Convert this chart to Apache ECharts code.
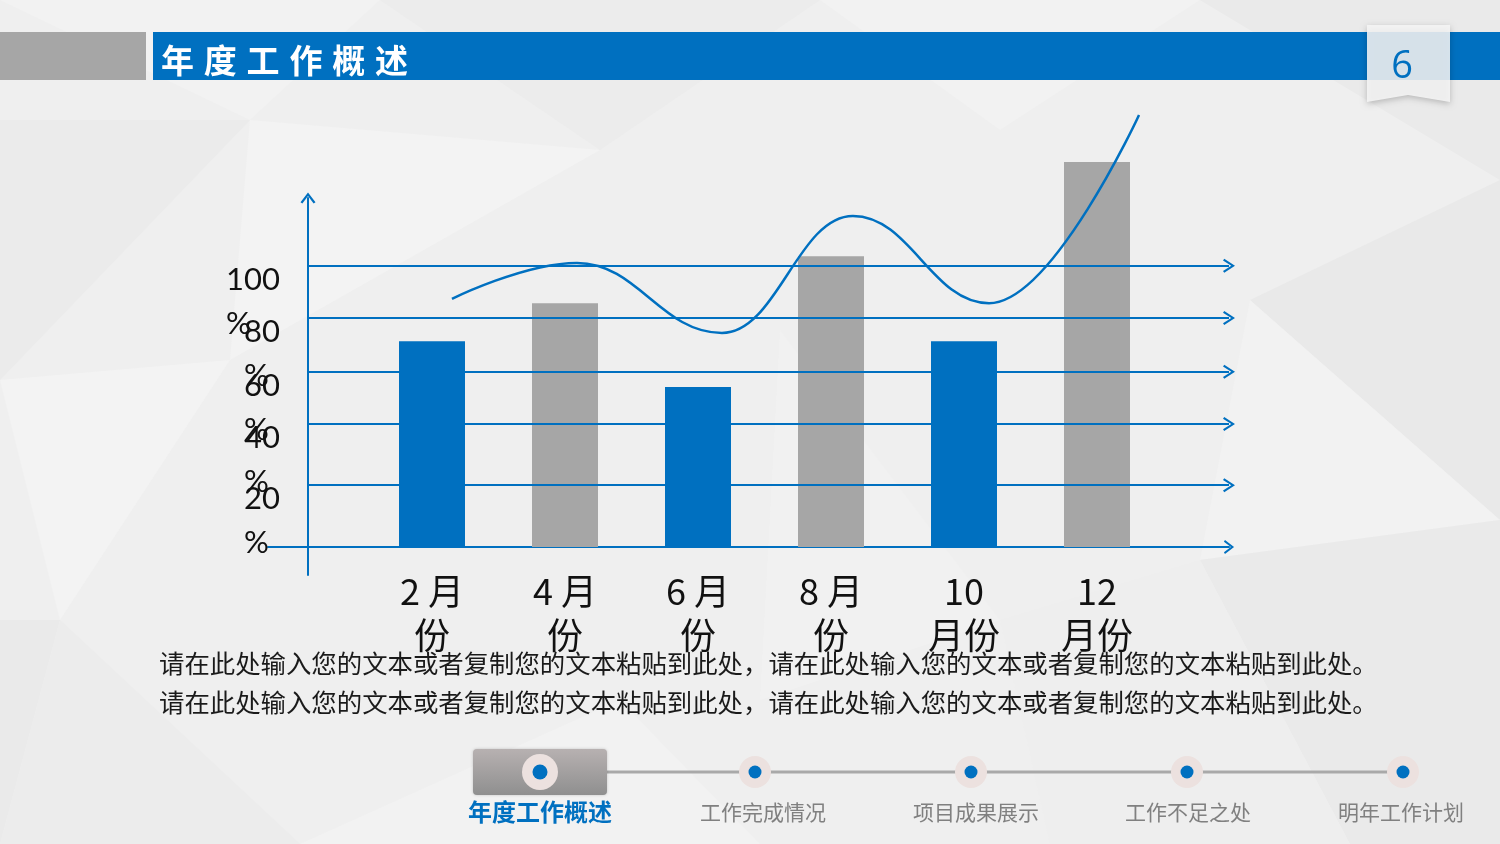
<!DOCTYPE html>
<html>
<head>
<meta charset="utf-8">
<script src="https://cdn.jsdelivr.net/npm/echarts@6/dist/echarts.min.js"></script>
<style>
html,body{margin:0;padding:0;background:#eeeeee;}
#chart{width:1500px;height:844px;}
</style>
</head>
<body>
<div id="chart"></div>
<script>
// ---- data ----
const categories = ['2月份', '4月份', '6月份', '8月份', '10月份', '12月份'];
const barValues = [73.2, 86.7, 56.9, 103.4, 73.2, 136.9];
const lineX = [0.15, 1.09, 2.18, 3.165, 4.188, 5.316];
const lineValues = [88.2, 101.0, 76.1, 117.7, 86.7, 153.6];
const gridValues = [100, 81.4, 62.3, 43.7, 22.0];
const tickLabels = ['100%', '80%', '60%', '40%', '20%'];
const pageTitle = '年度工作概述';
const pageNumber = '6';
const bodyText = ['请在此处输入您的文本或者复制您的文本粘贴到此处，请在此处输入您的文本或者复制您的文本粘贴到此处。',
                  '请在此处输入您的文本或者复制您的文本粘贴到此处，请在此处输入您的文本或者复制您的文本粘贴到此处。'];
const navItems = ['年度工作概述', '工作完成情况', '项目成果展示', '工作不足之处', '明年工作计划'];

// ---- styles ----
const BLUE = '#0070C0';
const GREY = '#A6A6A6';
const chevron = 'path://M0,13 L10,0 L20,13 L17.5,14.5 L10,4.5 L2.5,14.5 Z';

const chart = echarts.init(document.getElementById('chart'), null, {renderer: 'canvas'});

// background low-poly decoration
const bgPolys = [
  [[[0,0],[380,0],[250,120]], '#f2f2f2'],
  [[[380,0],[820,0],[600,150]], '#ececec'],
  [[[820,0],[1200,0],[1000,130]], '#f2f2f2'],
  [[[1200,0],[1500,0],[1500,180]], '#eaeaea'],
  [[[0,120],[250,120],[0,380]], '#ebebeb'],
  [[[250,120],[600,150],[230,360]], '#f3f3f3'],
  [[[0,380],[230,360],[60,620]], '#f3f3f3'],
  [[[0,620],[60,620],[0,844]], '#eaeaea'],
  [[[60,620],[300,844],[0,844]], '#ececec'],
  [[[1250,300],[1500,180],[1500,520]], '#e9e9e9'],
  [[[1250,300],[1500,520],[1200,560]], '#f2f2f2'],
  [[[1200,560],[1500,520],[1500,844],[1350,844]], '#eaeaea'],
  [[[1000,620],[1200,560],[1350,844],[1050,844]], '#eeeeee'],
  [[[780,330],[1000,620],[760,700]], '#f1f1f1'],
  [[[300,844],[620,700],[760,844]], '#f2f2f2']
];

const graphics = [];
bgPolys.forEach(p => graphics.push({type:'polygon', z:-10, silent:true, shape:{points:p[0]}, style:{fill:p[1]}}));

// header
graphics.push({type:'rect', z:1, shape:{x:0, y:32, width:146, height:48}, style:{fill:GREY}});
graphics.push({type:'rect', z:1, shape:{x:153, y:32, width:1347, height:48}, style:{fill:BLUE}});
pageTitle.split('').forEach((ch, i) => graphics.push({
  type:'text', z:2, x:161 + i*42.8, y:60,
  style:{text:ch, fill:'#ffffff', font:'bold 33px "Noto Sans CJK SC"', textVerticalAlign:'middle', textAlign:'left'}
}));
graphics.push({type:'polygon', z:3,
  shape:{points:[[1367,25],[1450,25],[1450,102],[1408,95],[1367,102]]},
  style:{fill:'rgba(246,246,246,0.87)', shadowBlur:6, shadowColor:'rgba(0,0,0,0.25)', shadowOffsetY:2}});
graphics.push({type:'text', z:4, x:1402, y:67,
  style:{text:pageNumber, fill:BLUE, font:'38px "Open Sans"', textAlign:'center', textVerticalAlign:'middle'}});

// body text
bodyText.forEach((t, i) => graphics.push({type:'text', z:2, x:159, y:663 + i*39,
  style:{text:t, fill:'#1a1a1a', font:'25.4px "Noto Sans CJK SC"', textAlign:'left', textVerticalAlign:'middle'}}));

// navigation
const navX = [540, 763, 976, 1188, 1401];
const dotX = [540, 755, 971, 1187, 1403];
graphics.push({type:'line', z:1, shape:{x1:607, y1:772, x2:1400, y2:772}, style:{stroke:'#a9a9a9', lineWidth:3}});
graphics.push({type:'rect', z:2, shape:{x:473, y:749, width:134, height:46, r:4},
  style:{fill:{type:'linear', x:0, y:0, x2:0, y2:1, colorStops:[{offset:0,color:'#b7b1b1'},{offset:1,color:'#8f8f8f'}]},
         shadowBlur:3, shadowColor:'rgba(0,0,0,0.2)'}});
dotX.forEach((x, i) => {
  graphics.push({type:'circle', z:3, shape:{cx:x, cy:772, r: i === 0 ? 18 : 16}, style:{fill:'#ece1df'}});
  graphics.push({type:'circle', z:4, shape:{cx:x, cy:772, r: i === 0 ? 7.5 : 6.5}, style:{fill:BLUE}});
});
navItems.forEach((t, i) => graphics.push({type:'text', z:2, x:navX[i], y:812,
  style:{text:t, fill: i === 0 ? BLUE : '#808080',
         font: i === 0 ? 'bold 24px "Noto Sans CJK SC"' : '21px "Noto Sans CJK SC"',
         textAlign:'center', textVerticalAlign:'middle'}}));

const Y_MAX = 160;

// y tick labels are split over two identical axes so none get auto-hidden
function labelAxis(gridIndex, values) {
  return {type:'value', gridIndex:gridIndex, min:0, max:Y_MAX, position:'left',
    axisLine:{show:false}, axisTick:{show:false}, splitLine:{show:false},
    axisLabel:{show:true, customValues:values, margin:28, verticalAlign:'top', align:'right',
      showMinLabel:true, showMaxLabel:true, hideOverlap:false,
      formatter:(v) => {
        let idx = 0, best = 1e9;
        gridValues.forEach((g, i) => { if (Math.abs(g - v) < best) { best = Math.abs(g - v); idx = i; } });
        return '{a|' + tickLabels[idx].replace('%','') + '}\n{b|%}';
      },
      rich:{
        a:{fontSize:31, lineHeight:28, fontFamily:'Lato', color:'#111', align:'left'},
        b:{fontSize:31, lineHeight:60, fontFamily:'Lato', color:'#111', align:'left'}
      }}};
}
const evenVals = gridValues.filter((v, i) => i % 2 === 0);
const oddVals = gridValues.filter((v, i) => i % 2 === 1);

const option = {
  backgroundColor: '#efefef',
  animation: false,
  graphic: graphics,
  grid: [
    {left: 365.5, right: 336.5, top: 97, bottom: 297},   // bars + curve
    {left: 308, right: 271, top: 97, bottom: 297},       // horizontal arrow lines + y labels
    {left: 308, right: 271, top: 198, bottom: 269},      // vertical axis arrow
    {left: 268, right: 271, top: 97, bottom: 297},       // base line
    {left: 308, right: 271, top: 97, bottom: 297}        // second set of y labels
  ],
  xAxis: [
    {type:'category', gridIndex:0, data:categories, boundaryGap:true,
     axisLine:{show:false}, axisTick:{show:false}, splitLine:{show:false},
     axisLabel:{margin:22, color:'#111', fontSize:36, lineHeight:44, fontFamily:'"Noto Sans CJK SC"', interval:0,
       formatter: (v) => { const n = v.replace('月份',''); return n.length === 1 ? n + ' 月\n份' : n + '\n月份'; }}},
    {type:'value', gridIndex:0, min:-0.5, max:5.5, show:false},
    {type:'value', gridIndex:1, min:0, max:1, show:false},
    {type:'value', gridIndex:2, min:0, max:1, show:false},
    {type:'value', gridIndex:3, min:0, max:1, position:'bottom',
     axisLine:{show:true, symbol:['none', chevron], symbolSize:[14,12], lineStyle:{color:BLUE, width:2}},
     axisTick:{show:false}, axisLabel:{show:false}, splitLine:{show:false}},
    {type:'value', gridIndex:4, min:0, max:1, show:false}
  ],
  yAxis: [
    {type:'value', gridIndex:0, min:0, max:Y_MAX, show:false},
    labelAxis(1, evenVals),
    {type:'value', gridIndex:2, min:0, max:1,
     axisLine:{show:true, symbol:['none', chevron], symbolSize:[15,12], lineStyle:{color:BLUE, width:2}},
     axisTick:{show:false}, axisLabel:{show:false}, splitLine:{show:false}},
    {type:'value', gridIndex:3, min:0, max:1, show:false},
    labelAxis(4, oddVals)
  ],
  series: [
    {type:'line', xAxisIndex:2, yAxisIndex:1, data:[], z:1, silent:true,
     markLine:{silent:true, symbol:['none', chevron], symbolSize:[14,12], animation:false,
       lineStyle:{color:BLUE, width:2, type:'solid'}, label:{show:false},
       data: gridValues.map(v => ({yAxis: v}))}},
    {type:'bar', xAxisIndex:0, yAxisIndex:0, data:barValues, barWidth:66, z:3, silent:true,
     itemStyle:{color:(p) => p.dataIndex % 2 === 0 ? BLUE : GREY}},
    {type:'line', xAxisIndex:1, yAxisIndex:0, z:4, silent:true,
     data: lineX.map((x, i) => [x, lineValues[i]]),
     smooth:0.42, smoothMonotone:'x', showSymbol:false, symbol:'none',
     lineStyle:{color:BLUE, width:2.5}}
  ]
};
chart.setOption(option);
</script>
</body>
</html>
